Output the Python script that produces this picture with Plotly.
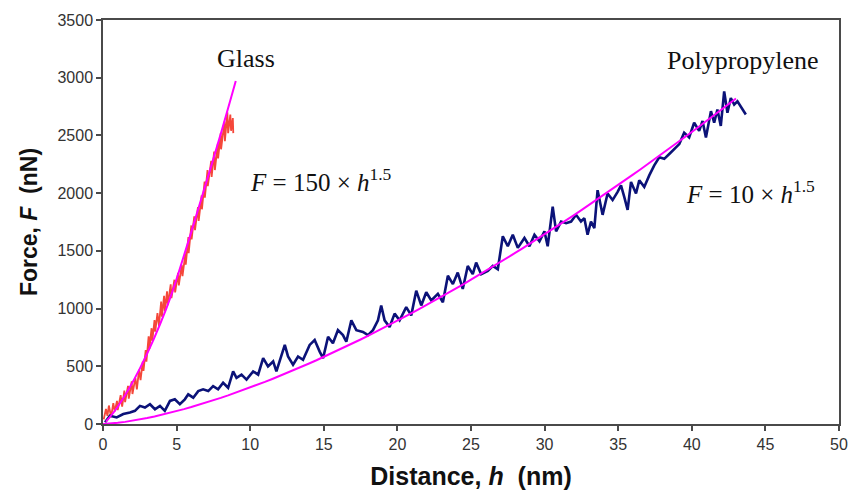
import plotly.graph_objects as go

# Indentation depth h (nm) and force F (nN), glass sample
glass_h = [0.05, 0.20, 0.30, 0.40, 0.55, 0.70, 0.80, 0.95, 1.00, 1.20, 1.30, 1.45, 1.50,
           1.70, 1.75, 1.95, 2.00, 2.20, 2.30, 2.45, 2.55, 2.70, 2.75, 2.90, 2.95, 3.10,
           3.15, 3.30, 3.35, 3.50, 3.55, 3.70, 3.80, 3.95, 4.00, 4.15, 4.20, 4.35, 4.40,
           4.60, 4.65, 4.85, 4.90, 5.10, 5.15, 5.35, 5.40, 5.60, 5.62, 5.80, 5.82, 6.00,
           6.02, 6.20, 6.25, 6.45, 6.50, 6.70, 6.72, 6.90, 6.92, 7.10, 7.12, 7.35, 7.38,
           7.55, 7.60, 7.80, 7.82, 8.00, 8.02, 8.25, 8.28, 8.45, 8.50, 8.65, 8.70, 8.82,
           8.85]
glass_F = [40, 130, 70, 160, 60, 180, 110, 200, 120, 250, 150, 290, 190,
           330, 220, 370, 260, 400, 300, 470, 380, 540, 460, 640, 540, 760,
           650, 830, 720, 900, 800, 960, 850, 1060, 930, 1110, 980, 1150, 1030,
           1210, 1090, 1250, 1140, 1310, 1200, 1380, 1280, 1480, 1380, 1620, 1480, 1720,
           1600, 1800, 1680, 1880, 1760, 1980, 1860, 2100, 1960, 2200, 2060, 2280, 2140,
           2360, 2200, 2430, 2300, 2520, 2380, 2620, 2450, 2700, 2520, 2680, 2540, 2650,
           2520]

# Polypropylene sample
pp_h = [0.14, 0.47, 0.93, 1.38, 1.83, 2.17, 2.51, 2.85, 3.19, 3.53, 3.87, 4.20, 4.55, 4.88,
        5.22, 5.56, 5.79, 6.13, 6.47, 6.80, 7.15, 7.48, 7.82, 8.16, 8.50, 8.84, 9.07, 9.41,
        9.75, 10.20, 10.54, 10.88, 11.21, 11.56, 11.78, 12.12, 12.35, 12.57, 12.91, 13.25,
        13.59, 14.04, 14.38, 14.72, 14.95, 15.29, 15.62, 15.96, 16.30, 16.53, 16.87, 17.21,
        17.66, 18.00, 18.34, 18.68, 18.90, 19.13, 19.47, 19.81, 20.15, 20.60, 20.94, 21.28,
        21.62, 21.96, 22.30, 22.75, 23.09, 23.43, 23.77, 24.10, 24.44, 24.78, 25.12, 25.35,
        25.69, 26.14, 26.48, 26.82, 27.16, 27.50, 27.84, 28.18, 28.63, 28.97, 29.31, 29.65,
        29.99, 30.21, 30.55, 30.78, 31.12, 31.46, 31.80, 32.14, 32.47, 32.70, 32.92, 33.15,
        33.38, 33.60, 33.94, 34.28, 34.62, 34.96, 35.19, 35.41, 35.64, 35.87, 36.21, 36.43,
        36.77, 37.11, 37.45, 37.79, 38.13, 38.47, 38.81, 39.15, 39.48, 39.82, 40.16, 40.50,
        40.73, 40.96, 41.30, 41.52, 41.74, 41.97, 42.20, 42.42, 42.65, 42.88, 43.10, 43.44,
        43.67]
pp_F = [15, 71, 57, 86, 100, 114, 157, 143, 171, 128, 157, 114, 200, 214,
        171, 214, 257, 228, 285, 300, 285, 328, 300, 357, 314, 456, 400, 428,
        385, 456, 428, 570, 499, 542, 456, 599, 685, 585, 513, 585,
        556, 685, 727, 627, 570, 756, 699, 813, 770, 713, 898, 813,
        798, 770, 813, 898, 1027, 898, 841, 956, 898, 1012, 941, 1155,
        1027, 1141, 1070, 1127, 1055, 1284, 1212, 1312, 1170, 1369, 1298, 1398,
        1298, 1326, 1369, 1341, 1626, 1540, 1640, 1526, 1612, 1540, 1640, 1583,
        1669, 1540, 1883, 1669, 1754, 1740, 1754, 1812, 1754, 1783, 1640, 1754,
        1697, 2026, 1812, 1997, 1940, 2011, 2068, 1968, 1855, 2097, 1997, 2111,
        2054, 2154, 2240, 2311, 2297, 2339, 2382, 2425, 2524, 2482, 2610, 2539,
        2625, 2482, 2710, 2610, 2724, 2582, 2881, 2696, 2824, 2767, 2795, 2724,
        2681]

# Fitted curve through the glass data
glass_fit_h = [0.2, 1.0, 2.5, 4.3, 5.6, 6.7, 7.9, 9.02]
glass_fit_F = [20, 150, 480, 1000, 1500, 1960, 2470, 2972]

# Polypropylene fit: F = 10 * h^1.5
pp_coef = 10
pp_fit_h = [i * 0.5 for i in range(0, 87)]
pp_fit_F = [pp_coef * h ** 1.5 for h in pp_fit_h]

x_ticks = list(range(0, 51, 5))
y_ticks = list(range(0, 3501, 500))

fig = go.Figure()
fig.add_trace(go.Scatter(x=glass_h, y=glass_F, mode="lines",
                         line=dict(color="#F5473A", width=1.8), name="Glass"))
fig.add_trace(go.Scatter(x=pp_h, y=pp_F, mode="lines",
                         line=dict(color="#0B1278", width=2.6), name="Polypropylene"))
fig.add_trace(go.Scatter(x=glass_fit_h, y=glass_fit_F, mode="lines",
                         line=dict(color="#FF00FF", width=2, shape="spline"), name="Glass fit"))
fig.add_trace(go.Scatter(x=pp_fit_h, y=pp_fit_F, mode="lines",
                         line=dict(color="#FF00FF", width=2), name="Polypropylene fit"))

axis_common = dict(showgrid=False, zeroline=False, showline=True, linecolor="#4a4a4a",
                   linewidth=1.5, mirror=True, ticks="outside", ticklen=5,
                   tickcolor="#4a4a4a", tickwidth=1.5,
                   tickfont=dict(family="Liberation Sans, Arial", size=16, color="#333333"))

fig.update_xaxes(range=[0, 50], tickvals=x_ticks, **axis_common,
                 title=dict(text="<b>Distance, <i>h</i>  (nm)</b>", standoff=16,
                            font=dict(family="Liberation Sans, Arial", size=25, color="#111111")))
fig.update_yaxes(range=[0, 3500], tickvals=y_ticks, **axis_common,
                 title=dict(text="<b>Force, <i>F</i>  (nN)</b>", standoff=13,
                            font=dict(family="Liberation Sans, Arial", size=23, color="#111111")))

serif = dict(family="Liberation Serif, Times New Roman", size=26, color="#111111")
fig.add_annotation(x=9.7, y=3166, text="Glass", showarrow=False, font=serif)
fig.add_annotation(x=43.45, y=3150, text="Polypropylene", showarrow=False, font=serif)
eq_font = dict(family="Liberation Serif, Times New Roman", size=25, color="#111111")
fig.add_annotation(x=14.8, y=2113, text="<i>F</i> = 150 × <i>h</i><sup>1.5</sup>",
                   showarrow=False, font=eq_font)
fig.add_annotation(x=44.0, y=2011, text="<i>F</i> = 10 × <i>h</i><sup>1.5</sup>",
                   showarrow=False, font=eq_font)

fig.update_layout(width=860, height=498, showlegend=False,
                  plot_bgcolor="white", paper_bgcolor="white",
                  margin=dict(l=103, r=20, t=16, b=73))

fig.write_html("out.html")
